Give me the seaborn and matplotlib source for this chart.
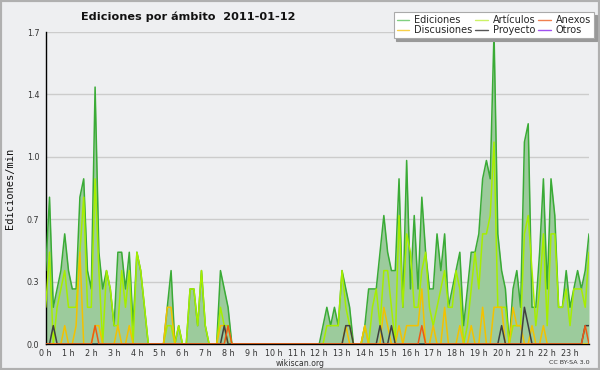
import numpy as np
import pandas as pd
import seaborn as sns
import matplotlib.pyplot as plt
from matplotlib.lines import Line2D
from matplotlib.patches import Rectangle

# edits per minute, one value per 10 minute slot (144 slots = 24 h)
ediciones = [
    0.4, 0.8, 0.2, 0.3, 0.4, 0.6, 0.4, 0.3, 0.3, 0.8, 0.9, 0.4,
    0.3, 1.4, 0.5, 0.3, 0.4, 0.3, 0.1, 0.5, 0.5, 0.3, 0.5, 0.1,
    0.5, 0.4, 0.2, 0.0, 0.0, 0.0, 0.0, 0.0, 0.2, 0.4, 0.0, 0.1,
    0.0, 0.0, 0.3, 0.3, 0.1, 0.4, 0.1, 0.0, 0.0, 0.0, 0.4, 0.3,
    0.2, 0.0, 0.0, 0.0, 0.0, 0.0, 0.0, 0.0, 0.0, 0.0, 0.0, 0.0,
    0.0, 0.0, 0.0, 0.0, 0.0, 0.0, 0.0, 0.0, 0.0, 0.0, 0.0, 0.0,
    0.0, 0.1, 0.2, 0.1, 0.2, 0.1, 0.4, 0.3, 0.2, 0.0, 0.0, 0.0,
    0.1, 0.3, 0.3, 0.3, 0.5, 0.7, 0.5, 0.4, 0.4, 0.9, 0.2, 1.0,
    0.3, 0.7, 0.3, 0.8, 0.5, 0.3, 0.3, 0.6, 0.4, 0.6, 0.2, 0.3,
    0.4, 0.5, 0.1, 0.3, 0.5, 0.5, 0.6, 0.9, 1.0, 0.9, 1.7, 0.6,
    0.4, 0.3, 0.0, 0.3, 0.4, 0.2, 1.1, 1.2, 0.2, 0.2, 0.5, 0.9,
    0.3, 0.9, 0.7, 0.2, 0.2, 0.4, 0.2, 0.3, 0.4, 0.3, 0.4, 0.6,
]
articulos = [
    0.2, 0.5, 0.0, 0.2, 0.3, 0.4, 0.2, 0.2, 0.2, 0.5, 0.8, 0.2,
    0.2, 0.9, 0.4, 0.0, 0.4, 0.3, 0.1, 0.1, 0.4, 0.2, 0.4, 0.0,
    0.5, 0.4, 0.2, 0.0, 0.0, 0.0, 0.0, 0.0, 0.1, 0.1, 0.0, 0.1,
    0.0, 0.0, 0.3, 0.3, 0.1, 0.4, 0.1, 0.0, 0.0, 0.0, 0.2, 0.1,
    0.1, 0.0, 0.0, 0.0, 0.0, 0.0, 0.0, 0.0, 0.0, 0.0, 0.0, 0.0,
    0.0, 0.0, 0.0, 0.0, 0.0, 0.0, 0.0, 0.0, 0.0, 0.0, 0.0, 0.0,
    0.0, 0.0, 0.1, 0.1, 0.1, 0.1, 0.4, 0.2, 0.1, 0.0, 0.0, 0.0,
    0.1, 0.0, 0.2, 0.3, 0.1, 0.4, 0.4, 0.2, 0.0, 0.7, 0.2, 0.6,
    0.5, 0.2, 0.2, 0.4, 0.5, 0.2, 0.1, 0.2, 0.3, 0.4, 0.2, 0.2,
    0.4, 0.3, 0.0, 0.1, 0.3, 0.5, 0.3, 0.6, 0.6, 0.7, 1.1, 0.2,
    0.2, 0.2, 0.0, 0.1, 0.1, 0.1, 0.6, 0.7, 0.4, 0.1, 0.3, 0.6,
    0.1, 0.6, 0.6, 0.2, 0.2, 0.3, 0.1, 0.3, 0.3, 0.3, 0.2, 0.5,
]
discusiones = [
    0.0, 0.0, 0.0, 0.0, 0.0, 0.1, 0.0, 0.0, 0.1, 0.5, 0.0, 0.0,
    0.0, 0.1, 0.1, 0.0, 0.0, 0.0, 0.0, 0.1, 0.0, 0.0, 0.1, 0.0,
    0.0, 0.0, 0.0, 0.0, 0.0, 0.0, 0.0, 0.0, 0.2, 0.2, 0.0, 0.0,
    0.0, 0.0, 0.0, 0.0, 0.0, 0.0, 0.0, 0.0, 0.0, 0.0, 0.1, 0.1,
    0.0, 0.0, 0.0, 0.0, 0.0, 0.0, 0.0, 0.0, 0.0, 0.0, 0.0, 0.0,
    0.0, 0.0, 0.0, 0.0, 0.0, 0.0, 0.0, 0.0, 0.0, 0.0, 0.0, 0.0,
    0.0, 0.0, 0.0, 0.0, 0.0, 0.0, 0.0, 0.1, 0.0, 0.0, 0.0, 0.0,
    0.1, 0.0, 0.0, 0.0, 0.0, 0.2, 0.1, 0.0, 0.0, 0.1, 0.0, 0.1,
    0.1, 0.1, 0.1, 0.3, 0.0, 0.0, 0.1, 0.0, 0.0, 0.2, 0.0, 0.0,
    0.0, 0.1, 0.0, 0.0, 0.1, 0.0, 0.0, 0.2, 0.0, 0.0, 0.2, 0.2,
    0.2, 0.0, 0.0, 0.2, 0.1, 0.1, 0.0, 0.0, 0.1, 0.0, 0.0, 0.1,
    0.0, 0.0, 0.0, 0.0, 0.0, 0.0, 0.0, 0.0, 0.0, 0.0, 0.0, 0.0,
]
anexos = [
    0.0, 0.0, 0.0, 0.0, 0.0, 0.0, 0.0, 0.0, 0.0, 0.0, 0.0, 0.0,
    0.0, 0.1, 0.0, 0.0, 0.0, 0.0, 0.0, 0.0, 0.0, 0.0, 0.0, 0.0,
    0.0, 0.0, 0.0, 0.0, 0.0, 0.0, 0.0, 0.0, 0.0, 0.0, 0.0, 0.0,
    0.0, 0.0, 0.0, 0.0, 0.0, 0.0, 0.0, 0.0, 0.0, 0.0, 0.0, 0.0,
    0.1, 0.0, 0.0, 0.0, 0.0, 0.0, 0.0, 0.0, 0.0, 0.0, 0.0, 0.0,
    0.0, 0.0, 0.0, 0.0, 0.0, 0.0, 0.0, 0.0, 0.0, 0.0, 0.0, 0.0,
    0.0, 0.0, 0.0, 0.0, 0.0, 0.0, 0.0, 0.0, 0.0, 0.0, 0.0, 0.0,
    0.0, 0.0, 0.0, 0.0, 0.0, 0.0, 0.0, 0.0, 0.0, 0.0, 0.0, 0.0,
    0.0, 0.0, 0.0, 0.1, 0.0, 0.0, 0.0, 0.0, 0.0, 0.0, 0.0, 0.0,
    0.0, 0.0, 0.0, 0.0, 0.0, 0.0, 0.0, 0.0, 0.0, 0.0, 0.0, 0.0,
    0.0, 0.0, 0.0, 0.0, 0.0, 0.0, 0.0, 0.0, 0.0, 0.0, 0.0, 0.0,
    0.0, 0.0, 0.0, 0.0, 0.0, 0.0, 0.0, 0.0, 0.0, 0.0, 0.1, 0.0,
]
proyecto = [
    0.0, 0.0, 0.1, 0.0, 0.0, 0.0, 0.0, 0.0, 0.0, 0.0, 0.0, 0.0,
    0.0, 0.0, 0.0, 0.0, 0.0, 0.0, 0.0, 0.0, 0.0, 0.0, 0.0, 0.0,
    0.0, 0.0, 0.0, 0.0, 0.0, 0.0, 0.0, 0.0, 0.0, 0.0, 0.0, 0.0,
    0.0, 0.0, 0.0, 0.0, 0.0, 0.0, 0.0, 0.0, 0.0, 0.0, 0.0, 0.1,
    0.0, 0.0, 0.0, 0.0, 0.0, 0.0, 0.0, 0.0, 0.0, 0.0, 0.0, 0.0,
    0.0, 0.0, 0.0, 0.0, 0.0, 0.0, 0.0, 0.0, 0.0, 0.0, 0.0, 0.0,
    0.0, 0.0, 0.0, 0.0, 0.0, 0.0, 0.0, 0.1, 0.1, 0.0, 0.0, 0.0,
    0.0, 0.0, 0.0, 0.0, 0.1, 0.0, 0.0, 0.1, 0.0, 0.0, 0.0, 0.0,
    0.0, 0.0, 0.0, 0.0, 0.0, 0.0, 0.0, 0.0, 0.0, 0.0, 0.0, 0.0,
    0.0, 0.0, 0.0, 0.0, 0.0, 0.0, 0.0, 0.0, 0.0, 0.0, 0.0, 0.0,
    0.1, 0.0, 0.0, 0.0, 0.0, 0.0, 0.2, 0.1, 0.0, 0.0, 0.0, 0.0,
    0.0, 0.0, 0.0, 0.0, 0.0, 0.0, 0.0, 0.0, 0.0, 0.0, 0.1, 0.1,
]
otros = [0.0] * 144

hour_labels = ['%d h' % h for h in range(24)]
y_ticks = [0.0, 0.34, 0.68, 1.02, 1.36, 1.7]

slots = np.arange(len(ediciones))
df = pd.DataFrame({'slot': slots, 'Ediciones': ediciones, 'Artículos': articulos,
                   'Discusiones': discusiones, 'Anexos': anexos,
                   'Proyecto': proyecto, 'Otros': otros})

bg = '#eeeff1'
line_colors = {'Ediciones': '#3aab36', 'Artículos': '#a6ee00', 'Discusiones': '#f3c200',
               'Anexos': '#ec5a14', 'Proyecto': '#404040', 'Otros': '#9a44ee'}
legend_colors = {'Ediciones': '#80d080', 'Artículos': '#ccf266', 'Anexos': '#f08050',
                 'Discusiones': '#f8d048', 'Proyecto': '#555555', 'Otros': '#a050f0'}

sns.set_theme(style='white', rc={'axes.facecolor': bg, 'figure.facecolor': bg})
plt.rcParams['font.family'] = ['DejaVu Sans']

fig = plt.figure(figsize=(6, 3.7), dpi=100)
ax = fig.add_axes([45.7 / 600, 1 - 344 / 370, (589 - 45.7) / 600, 312 / 370])

# area under total edits
ax.fill_between(df['slot'], df['Ediciones'], color='#9ccb9c', lw=0, zorder=2)
for name in ['Ediciones', 'Otros', 'Artículos', 'Discusiones', 'Proyecto', 'Anexos']:
    if df[name].sum() == 0:
        continue
    sns.lineplot(data=df, x='slot', y=name, color=line_colors[name], lw=1.1, ax=ax,
                 legend=False, zorder=3)

ax.set_xlim(0, len(slots) - 1)
ax.set_ylim(0, 1.7)
ax.set_xticks(np.arange(0, 144, 6))
ax.set_xticklabels(hour_labels)
ax.set_xticks(np.arange(0, 144, 1), minor=True)
ax.set_yticks(y_ticks)
ax.set_yticklabels(['%.1f' % v for v in y_ticks])
ax.set_yticks(np.arange(0, 1.71, 0.085), minor=True)
ax.tick_params(axis='both', which='both', direction='out', color='black', width=0.8,
               labelsize=5.8, labelcolor='#333333', pad=0.5)
ax.tick_params(axis='y', which='major', length=4)
ax.tick_params(axis='y', which='minor', length=3)
ax.tick_params(axis='x', which='both', length=3)
for v in y_ticks[1:]:
    ax.axhline(v, color='#cccccc', lw=1, zorder=1)
for s in ['top', 'right']:
    ax.spines[s].set_visible(False)
for s in ['left', 'bottom']:
    ax.spines[s].set_color('black')
    ax.spines[s].set_linewidth(1.0)
ax.set_xlabel('')
ax.set_ylabel('')

fig.text(10 / 600, 1 - 188 / 370, 'Ediciones/min', rotation=90, ha='center', va='center',
         family='DejaVu Sans Mono', fontsize=7.5, color='#111111')
fig.text(188 / 600, 1 - 17 / 370, 'Ediciones por ámbito  2011-01-12', ha='center',
         va='center', fontweight='bold', fontsize=8.1, color='#111111')
fig.text(300 / 600, 1 - 363.5 / 370, 'wikiscan.org', ha='center', va='center',
         fontsize=5.6, color='#333333')
fig.text(590 / 600, 1 - 363 / 370, 'CC BY-SA 3.0', ha='right', va='center',
         fontsize=4.6, color='#333333')

order = ['Ediciones', 'Discusiones', 'Artículos', 'Proyecto', 'Anexos', 'Otros']
handles = [Line2D([], [], color=legend_colors[n], lw=1) for n in order]
leg = fig.legend(handles, order, ncol=3, loc='upper right',
                 bbox_to_anchor=(594 / 600, 1 - 12 / 370), fontsize=7,
                 frameon=True, fancybox=False, shadow={'color': '#999999', 'alpha': 1},
                 handlelength=1.3, handletextpad=0.5, columnspacing=0.3,
                 labelspacing=0.05, borderpad=0.3, borderaxespad=0)
leg.get_frame().set_facecolor('white')
leg.get_frame().set_edgecolor('#aaaaaa')
leg.get_frame().set_linewidth(0.8)

fig.patches.append(Rectangle((0, 0), 1, 1, transform=fig.transFigure, fill=False,
                             edgecolor='#b0b0b0', lw=3))

fig.savefig('out.png', dpi=100, facecolor=bg)
